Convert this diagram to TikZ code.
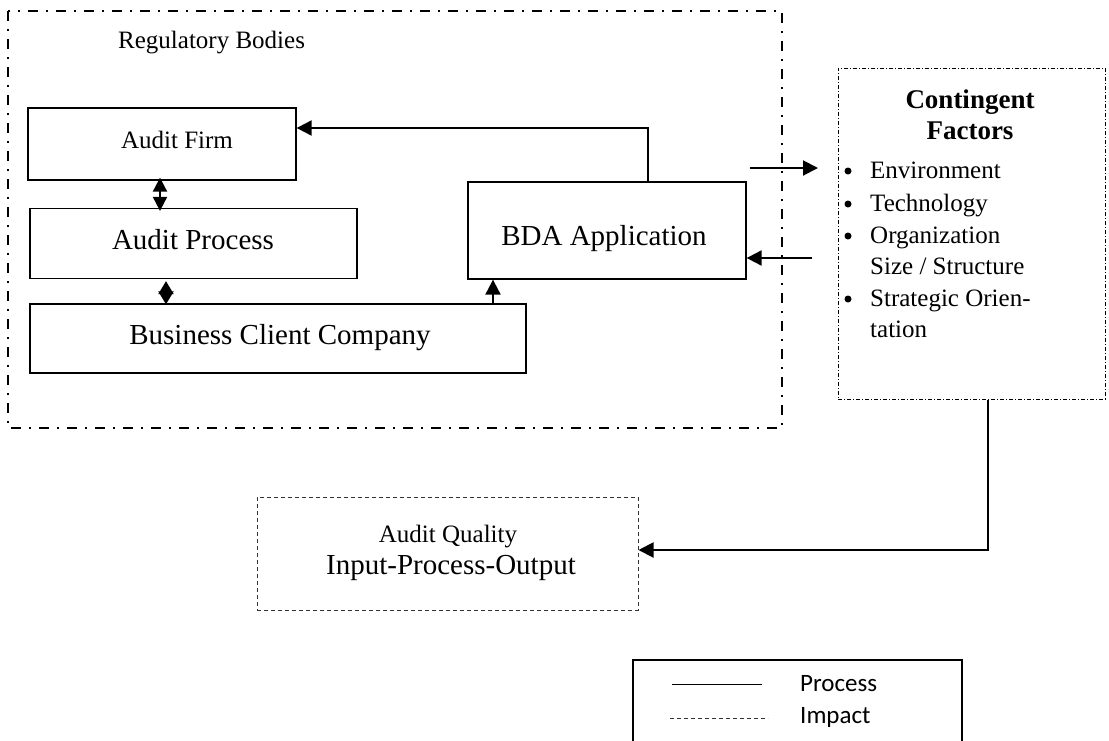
\documentclass[tikz,border=0pt]{standalone}
\usepackage{fontspec}
\setmainfont{Liberation Serif}
\newfontfamily\legendfont{Carlito}
\usetikzlibrary{arrows.meta,calc}
\begin{document}
\begin{tikzpicture}[x=1pt,y=-1pt,
  box/.style={draw,line width=1.3pt,inner sep=0pt},
  txt/.style={inner sep=0pt,font=\fontsize{25}{30}\selectfont},
  bigtxt/.style={inner sep=0pt,font=\fontsize{29}{34}\selectfont},
  btxt/.style={inner sep=0pt,font=\fontsize{27}{32}\selectfont\bfseries},
  legtxt/.style={inner sep=0pt,anchor=west,font=\fontsize{25}{30}\selectfont\legendfont},
  bullet/.style={circle,fill,inner sep=0pt,minimum size=7pt},
  conn/.style={line width=2pt,-{Triangle[length=15pt,width=15pt]}},
  dbl/.style={line width=2pt,{Triangle[length=14pt,width=14pt]}-{Triangle[length=14pt,width=14pt]}},
  diam/.style={line width=2pt,{Triangle[length=13pt,width=15pt]}-{Triangle[length=13pt,width=15pt]}},
  regline/.style={line width=2pt,dash pattern=on 10pt off 8pt on 2pt off 8pt},
  cfline/.style={line width=1pt,dash pattern=on 4pt off 2pt on 1pt off 2pt},
  impact/.style={line width=1pt,dash pattern=on 4pt off 3pt,draw=black!80}]
\useasboundingbox (0,0) rectangle (1109,740);

% regulatory frame
\draw[regline] (8,11) rectangle (782,428);
\node[txt,anchor=west] (reg) at (118,43) {Regulatory Bodies};

% actors inside the regulatory frame
\node[box,minimum width=268pt,minimum height=72pt] (firm) at (162,144) {};
\node[txt] (firmtxt) at (177,140) {Audit Firm};
\node[box,minimum width=327pt,minimum height=70pt] (process) at (193.5,243.5) {};
\node[bigtxt] (processtxt) at (193,240) {Audit Process};
\node[box,minimum width=496pt,minimum height=69pt] (client) at (278,338.5) {};
\node[bigtxt] (clienttxt) at (280,338) {Business Client Company};
\node[box,minimum width=278pt,minimum height=97pt] (bda) at (607,230.5) {};
\node[bigtxt] (bdatxt) at (604,239) {BDA Application};

% contingent factors
\node[draw,cfline,minimum width=267pt,minimum height=331pt,inner sep=0pt] (cf) at (971.5,233.5) {};
\node[btxt,anchor=base] (cft1) at (970,108) {Contingent};
\node[btxt,anchor=base] (cft2) at (970,139) {Factors};
\node[txt,anchor=base west] (cf1) at (870,178) {Environment};
\node[txt,anchor=base west] (cf2) at (870,211) {Technology};
\node[txt,anchor=base west] (cf3) at (870,243) {Organization};
\node[txt,anchor=base west] (cf4) at (870,274) {Size / Structure};
\node[txt,anchor=base west] (cf5) at (870,306) {Strategic Orien-};
\node[txt,anchor=base west] (cf6) at (870,337) {tation};
\foreach \y/\n in {171/b1,204/b2,236/b3,299/b4}
  \node[bullet] (\n) at (848,\y) {};

% outcome
\node[draw,impact,minimum width=381pt,minimum height=113pt,inner sep=0pt] (quality) at (447.5,553.5) {};
\node[txt] (q1) at (448,537) {Audit Quality};
\node[bigtxt] (q2) at (451,568) {Input-Process-Output};

% connectors
\coordinate (colA) at (160,0);
\coordinate (colB) at (166,0);
\coordinate (colC) at (493,0);
\coordinate (colD) at (648,0);
\coordinate (colE) at (988,0);
\coordinate (rowA) at (0,128);
\coordinate (rowB) at (0,550);
\coordinate (outS) at (750,168);
\coordinate (outE) at (818,168);
\coordinate (inS) at (812,258);

\draw[dbl] ([yshift=3pt]firm.south -| colA) -- ([yshift=-3pt]process.north -| colA);
\draw[diam] ([yshift=-2pt]process.south -| colB) -- ([yshift=-1pt]client.north -| colB);
\draw[conn] (client.north -| colC) -- (bda.south -| colC);
\draw[conn] (bda.north -| colD) |- (firm.east |- rowA);
\draw[conn] (outS) -- (outE);
\draw[conn] (inS) -- (bda.east |- inS);
\draw[conn] (cf.south -| colE) |- (quality.east |- rowB);

% legend
\draw[line width=1.3pt] (633,745) -- (633,660) -- (962,660) -- (962,745);
\draw[line width=1pt] (672,684) -- (762,684);
\draw[impact] (670,718) -- (768,718);
\node[legtxt] (lp) at (800,684) {Process};
\node[legtxt] (li) at (800,717) {Impact};
\end{tikzpicture}
\end{document}
